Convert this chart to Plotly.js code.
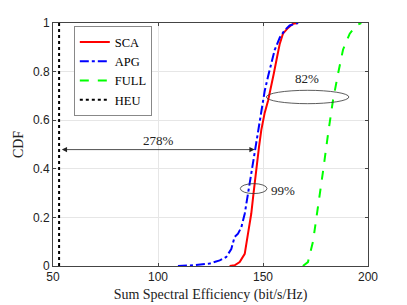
<!DOCTYPE html>
<html><head><meta charset="utf-8">
<script src="https://cdn.plot.ly/plotly-3.0.1.min.js"></script>
<style>html,body{margin:0;padding:0;background:#fff;}#c{width:407px;height:305px;}</style>
</head><body><div id="c"></div>
<script>
const scaX = [134.1,136.5,138.9,141.3,142.8,144.4,145.5,146.8,148.1,149.2,150.8,152.4,154.0,155.1,156.7,158.0,159.5,161.9,164.3,166.7];
const scaY = [0,0.003,0.016,0.05,0.13,0.215,0.3,0.41,0.49,0.56,0.63,0.68,0.74,0.79,0.86,0.915,0.956,0.98,0.997,1];
const apgX = [109.5,116.7,124.6,129.4,132.5,134.9,136.5,138.1,139.7,141.3,142.9,144.4,146.0,147.6,149.2,150.8,152.4,154.0,155.6,158.0,160.3,162.7,166.7];
const apgY = [0,0.003,0.01,0.023,0.037,0.07,0.12,0.133,0.16,0.215,0.3,0.38,0.476,0.56,0.64,0.72,0.78,0.83,0.89,0.94,0.97,0.99,1];
const fullX = [169.0,171.4,173.8,176.2,178.6,181.0,183.3,185.7,188.1,191.3,194.4,196.8];
const fullY = [0,0.016,0.1,0.24,0.39,0.545,0.68,0.79,0.89,0.956,0.99,1];
const heuX = [52.9,52.9];
const heuY = [0,1];
const xTicks = [50,100,150,200];
const yTicks = [0,0.2,0.4,0.6,0.8,1];
const yTickText = ['0','0.2','0.4','0.6','0.8','1'];

const serif = "Liberation Serif";
const sans = "Liberation Sans";

const traces = [
  {x:scaX,y:scaY,name:'SCA',mode:'lines',line:{color:'#ff0000',width:2}},
  {x:apgX,y:apgY,name:'APG',mode:'lines',line:{color:'#0000ff',width:2,dash:'dashdot'}},
  {x:fullX,y:fullY,name:'FULL',mode:'lines',line:{color:'#00ff00',width:2,dash:'dash'}},
  {x:heuX,y:heuY,name:'HEU',mode:'lines',line:{color:'#000000',width:2,dash:'dot'}}
];

const layout = {
  width:407,height:305,
  margin:{l:53,r:39,t:23,b:39},
  paper_bgcolor:'#fff',plot_bgcolor:'#fff',
  showlegend:true,
  legend:{x:0.067,y:0.985,xanchor:'left',yanchor:'top',bgcolor:'#fff',bordercolor:'#555',borderwidth:0.7,
    font:{family:serif,size:12.5,color:'#000'},tracegroupgap:0,itemwidth:30},
  xaxis:{range:[50,200],tickvals:xTicks,ticks:'inside',ticklen:3,mirror:'ticks',showline:true,linecolor:'#444',linewidth:1,
    showgrid:true,gridcolor:'#e6e6e6',zeroline:false,tickfont:{family:sans,size:12,color:'#222'},
    title:{text:'Sum Spectral Efficiency (bit/s/Hz)',font:{family:serif,size:14,color:'#222'},standoff:5}},
  yaxis:{range:[0,1],tickvals:yTicks,ticktext:yTickText,ticks:'inside',ticklen:3,mirror:'ticks',showline:true,linecolor:'#444',linewidth:1,
    showgrid:true,gridcolor:'#e6e6e6',zeroline:false,tickfont:{family:sans,size:12,color:'#222'},
    title:{text:'CDF',font:{family:serif,size:14,color:'#222'},standoff:6}},
  shapes:[
    {type:'circle',xref:'x',yref:'y',x0:151.6,x1:190.9,y0:0.668,y1:0.723,line:{color:'#333',width:0.8}},
    {type:'circle',xref:'x',yref:'y',x0:139.2,x1:151.9,y0:0.298,y1:0.339,line:{color:'#333',width:0.8}}
  ],
  annotations:[
    {x:146,y:0.479,ax:53.5,ay:0.479,xref:'x',yref:'y',axref:'x',ayref:'y',text:'',showarrow:true,arrowhead:2,arrowside:'end+start',arrowsize:1.3,arrowwidth:0.8,arrowcolor:'#222'},
    {x:100,y:0.515,xref:'x',yref:'y',text:'278%',showarrow:false,font:{family:serif,size:13,color:'#222'}},
    {x:170.8,y:0.77,xref:'x',yref:'y',text:'82%',showarrow:false,font:{family:serif,size:13,color:'#222'}},
    {x:159.6,y:0.31,xref:'x',yref:'y',text:'99%',showarrow:false,font:{family:serif,size:13,color:'#222'}}
  ]
};
Plotly.newPlot('c',traces,layout,{displayModeBar:false,staticPlot:true});
</script></body></html>
